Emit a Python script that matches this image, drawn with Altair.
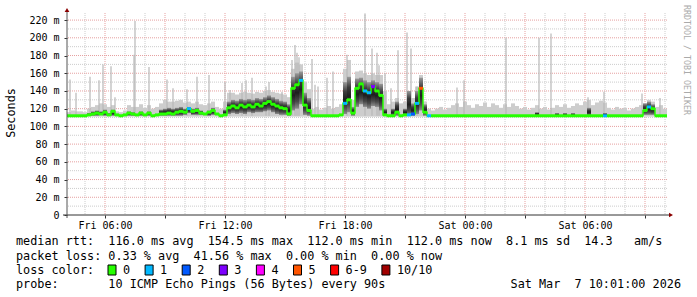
import altair as alt
import numpy as np
import pandas as pd

NB = "\u00a0"
MONO = "DejaVu Sans Mono"
N = None

# ---------------- data (time in hours from left edge, values in ms) ----------------
step_hours = 0.2
med = [112,112,112,112,112,113,114,115,114,116,
       113,117,113,112,113,115,114,113,115,113,
       115,112,113,114,114,115,114,116,117,116,
       120,117,118,115,114,116,118,114,112,113,
       121,123,121,124,122,124,122,125,123,126,
       128,125,123,121,120,114,143,147,152,124,
       118,112,112,112,112,112,112,112,113,126,
       130,115,143,148,140,138,145,140,135,113,
       112,112,116,112,113,113,114,126,143,116,
       112,112,112,112,112,112,112,112,112,112,
       112,112,112,112,112,112,112,112,112,112,
       112,112,112,112,112,112,112,112,112,112,
       112,112,112,112,112,112,112,112,112,112,
       112,112,112,112,112,112,112,112,112,112,
       112,112,112,112,118,122,120,112,112,112]
smoke_hi = [116,118,117,117,116,120,122,124,126,125,
            122,124,117,116,118,124,122,122,125,121,
            124,120,122,126,130,128,128,129,130,127,
            128,126,128,125,124,126,128,122,120,128,
            138,138,136,138,139,138,137,139,138,140,
            141,139,138,137,136,133,165,172,170,150,
            142,120,122,119,121,123,120,122,125,165,
            175,130,162,163,160,158,160,158,158,140,
            125,128,132,126,128,135,132,145,158,128,
            120,118,120,122,119,121,124,126,122,128,
            124,121,125,123,127,122,126,124,121,125,
            122,126,123,120,122,119,121,124,120,122,
            119,121,124,122,125,121,123,126,124,128,
            130,124,127,129,127,121,119,122,120,121,
            118,120,122,124,126,130,128,122,124,120]
dark_lo = [N,N,N,N,N,112,112,112,113,112,
           112,112,N,N,N,112,112,N,112,N,
           112,N,N,112,112,112,112,112,112,113,
           115,113,113,113,N,112,113,N,N,112,
           114,115,114,115,114,116,115,116,116,117,
           118,116,114,113,113,112,118,120,125,113,
           112,N,N,N,N,N,N,N,N,114,
           116,112,122,125,122,120,123,122,118,112,
           N,112,112,N,112,112,112,114,118,112,
           N,N,N,N,N,N,N,N,N,N,
           N,N,N,N,N,N,N,N,N,N,
           N,N,N,N,N,N,N,112,N,N,
           N,N,112,N,112,N,112,N,N,N,
           112,N,N,N,112,N,N,N,N,N,
           N,N,N,N,113,113,113,N,N,N]
dark_hi = [N,N,N,N,N,115,117,118,117,119,
           115,119,N,N,N,117,116,N,117,N,
           117,N,N,119,120,121,120,121,122,120,
           122,120,121,118,N,118,121,N,N,119,
           128,130,129,131,130,131,130,132,131,133,
           135,133,131,129,128,125,156,160,162,138,
           132,N,N,N,N,N,N,N,N,150,
           156,122,154,155,152,150,152,150,148,120,
           N,120,128,N,120,140,126,140,155,125,
           N,N,N,N,N,N,N,N,N,N,
           N,N,N,N,N,N,N,N,N,N,
           N,N,N,N,N,N,N,116,N,N,
           N,N,115,N,115,N,115,N,N,N,
           121,N,N,N,115,N,N,N,N,N,
           N,N,N,N,126,128,125,N,N,N]
loss_at = [30, 58, 69, 74, 75, 76, 85, 86, 87, 88, 90, 134, 145]
loss_n = [1, 1, 1, 1, 1, 3, 1, 2, 1, 5, 1, 1, 1]

spike_t = [0.15,0.45,1.15,1.6,1.8,2.2,2.4,3.35,3.4,4.1,5.0,5.3,6.0,6.5,7.1,7.9,8.15,
           8.75,8.95,9.25,9.95,10.1,10.75,11.25,11.4,11.5,11.6,12.25,12.4,12.55,13.0,
           13.3,14.0,14.9,15.25,15.5,15.6,15.9,16.2,16.55,17.0,17.2,17.5,19.5,19.85,
           21.95,23.6,24.2,26.05,26.85,28.75,29.65]
spike_top = [153,138,156,152,170,168,133,181,219,167,153,143,142,156,158,150,141,
             149,152,155,145,150,139,175,192,183,178,176,147,145,155,
             162,181,227,188,183,169,160,143,186,206,188,145,144,152,
             200,200,205,133,139,137,132]

y_labels = [0,20,40,60,80,100,120,140,160,180,200,220]
y_minor = [10,30,50,70,90,110,130,150,170,190,210]
x_major = [1.9,4.9,7.9,10.9,13.9,16.9,19.9,22.9,25.9,28.9]
x_minor = [0.9,2.9,3.9,5.9,6.9,8.9,9.9,11.9,12.9,14.9,15.9,17.9,18.9,20.9,21.9,
           23.9,24.9,26.9,27.9,29.9]
x_label_t = [1.9,7.9,13.9,19.9,25.9]
x_label_txt = ["Fri 06:00","Fri 12:00","Fri 18:00","Sat 00:00","Sat 06:00"]

legend_labels = ["0","1","2","3","4","5","6-9","10/10"]
legend_colors = ["#26ff00","#00b8ff","#0059ff","#7e00ff","#ff00ff","#ff5500","#ff0000","#a10000"]

line1 = "median rtt:  116.0 ms avg  154.5 ms max  112.0 ms min  112.0 ms now  8.1 ms sd  14.3   am/s"
line2 = "packet loss: 0.33 % avg  41.56 % max  0.00 % min  0.00 % now"
line3 = "loss color:"
line4 = "probe:       10 ICMP Echo Pings (56 Bytes) every 90s"
stamp = "Sat Mar  7 10:01:00 2026"
watermark = "RRDTOOL / TOBI OETIKER"
ytitle = "Seconds"

# ---------------- table ----------------
n = len(med)
loss = [0] * n
for i, v in zip(loss_at, loss_n):
    loss[i] = v

def loss_color(v):
    if v <= 5:
        return legend_colors[v]
    if v < 10:
        return legend_colors[6]
    return legend_colors[7]

df = pd.DataFrame({
    "t0": np.arange(n) * step_hours,
    "t1": (np.arange(n) + 1) * step_hours,
    "med": med, "hi": smoke_hi, "dlo": dark_lo, "dhi": dark_hi,
    "col": [loss_color(v) for v in loss],
})
spikes = pd.DataFrame({"t": spike_t, "top": spike_top})
one = pd.DataFrame({"k": [0]})

xs = alt.Scale(domain=[0, 30], nice=False, zero=False)
ys = alt.Scale(domain=[0, 228], nice=False, zero=False)

x_expr = " : ".join(f"datum.value == {v} ? '{l}'" for v, l in zip(x_label_t, x_label_txt)) + " : ''"
xaxis = alt.Axis(values=x_major, labelExpr=x_expr, title=None, grid=False, domain=False,
                 tickSize=3, tickColor="#333333", labelFont=MONO, labelFontSize=10,
                 labelColor="#000000", labelPadding=2, labelAngle=0, labelFlush=False,
                 labelOverlap=False)
yaxis = alt.Axis(values=y_labels,
                 labelExpr=f"datum.value == 0 ? '0{NB}{NB}' : datum.value + '{NB}m'",
                 title=None, grid=False, domain=False, tickSize=3, tickColor="#333333",
                 labelFont=MONO, labelFontSize=10, labelColor="#000000", labelPadding=5)

def X(f):
    return alt.X(f, type="quantitative", scale=xs, axis=xaxis)

def Y(f):
    return alt.Y(f, type="quantitative", scale=ys, axis=yaxis)

smoke_grad = alt.LinearGradient(
    gradient="linear", x1=0, y1=0, x2=0, y2=1,
    stops=[alt.GradientStop(color="#9a9a9a", offset=0),
           alt.GradientStop(color="#3c3c3c", offset=0.3),
           alt.GradientStop(color="#1e1e1e", offset=0.55),
           alt.GradientStop(color="#4a4a4a", offset=0.8),
           alt.GradientStop(color="#8c8c8c", offset=1)])

layers = []
# grid
layers.append(alt.Chart(pd.DataFrame({"v": y_minor})).mark_rule(
    color="#cccccc", strokeDash=[1, 1], strokeWidth=1).encode(y=Y("v")))
layers.append(alt.Chart(pd.DataFrame({"v": x_minor})).mark_rule(
    color="#cccccc", strokeDash=[1, 1], strokeWidth=1).encode(x=X("v")))
layers.append(alt.Chart(pd.DataFrame({"v": y_labels[1:]})).mark_rule(
    color="#e6a0a0", strokeDash=[1, 1], strokeWidth=1).encode(y=Y("v")))
layers.append(alt.Chart(pd.DataFrame({"v": x_major})).mark_rule(
    color="#e6a0a0", strokeDash=[1, 1], strokeWidth=1).encode(x=X("v")))

# smoke
base = alt.Chart(df)
layers.append(base.mark_rect(color="#cdcdcd").encode(
    x=X("t0"), x2="t1", y=Y("hi"), y2=alt.datum(111)))
layers.append(alt.Chart(spikes).mark_rule(color="#b8b8b8", strokeWidth=1.2).encode(
    x=X("t"), y=Y("top"), y2=alt.datum(112)))
layers.append(base.mark_rect(color=smoke_grad).encode(
    x=X("t0"), x2="t1", y=Y("dlo"), y2="dhi"))
# median
layers.append(base.mark_line(interpolate="step-after", color="#26ff00", strokeWidth=1.5).encode(
    x=X("t0"), y=Y("med")))
layers.append(base.mark_rule(strokeWidth=3).encode(
    x=X("t0"), x2="t1", y=Y("med"), color=alt.Color("col:N", scale=None)))

# axis lines and arrows (pixel positions relative to plot area)
layers.append(alt.Chart(one).mark_rule(color="#333333", strokeWidth=1).encode(
    x=alt.value(-4), x2=alt.value(603), y=alt.value(202)))
layers.append(alt.Chart(one).mark_rule(color="#555555", strokeWidth=1).encode(
    x=alt.value(0), y=alt.value(-2), y2=alt.value(205)))
layers.append(alt.Chart(one).mark_point(shape="triangle-right", filled=True, size=22,
                                         color="#8b0000", opacity=1).encode(
    x=alt.value(604), y=alt.value(202)))
layers.append(alt.Chart(one).mark_point(shape="triangle-up", filled=True, size=22,
                                         color="#8b0000", opacity=1).encode(
    x=alt.value(0), y=alt.value(-3)))

def txt(s, x, y, size=11.8, align="left", angle=0, color="#000000"):
    return alt.Chart(one).mark_text(text=s.replace(" ", NB), font=MONO, fontSize=size,
                                    align=align, baseline="middle", angle=angle,
                                    color=color).encode(x=alt.value(x), y=alt.value(y))

OX, OY = 67, 13
layers.append(txt(line1, 16 - OX, 241 - OY))
layers.append(txt(line2, 16 - OX, 256 - OY))
layers.append(txt(line3, 16 - OX, 270 - OY))
layers.append(txt(line4, 16 - OX, 284 - OY))
layers.append(txt(stamp, 681 - OX, 284 - OY, align="right"))
layers.append(txt(ytitle, 11 - OX, 113 - OY, align="center", angle=270))
layers.append(txt(watermark, 686 - OX, 60 - OY, size=8.3, align="center", angle=90,
                  color="#aaaaaa"))

pos = 108.0
for lab, colr in zip(legend_labels, legend_colors):
    layers.append(alt.Chart(one).mark_rect(color=colr, stroke="#000000", strokeWidth=1).encode(
        x=alt.value(pos - OX), x2=alt.value(pos + 8 - OX),
        y=alt.value(265 - OY), y2=alt.value(275 - OY)))
    layers.append(txt(lab, pos + 15 - OX, 270 - OY))
    pos += 30 + 7.1 * len(lab)

chart = alt.layer(*layers).properties(
    width=600, height=202,
    padding={"left": 67, "top": 13, "right": 30, "bottom": 82},
    autosize=alt.AutoSizeParams(type="none"),
    background="#ffffff",
).configure_view(stroke=None)

chart.save("out.html", embed_options={"renderer": "svg", "actions": False})
